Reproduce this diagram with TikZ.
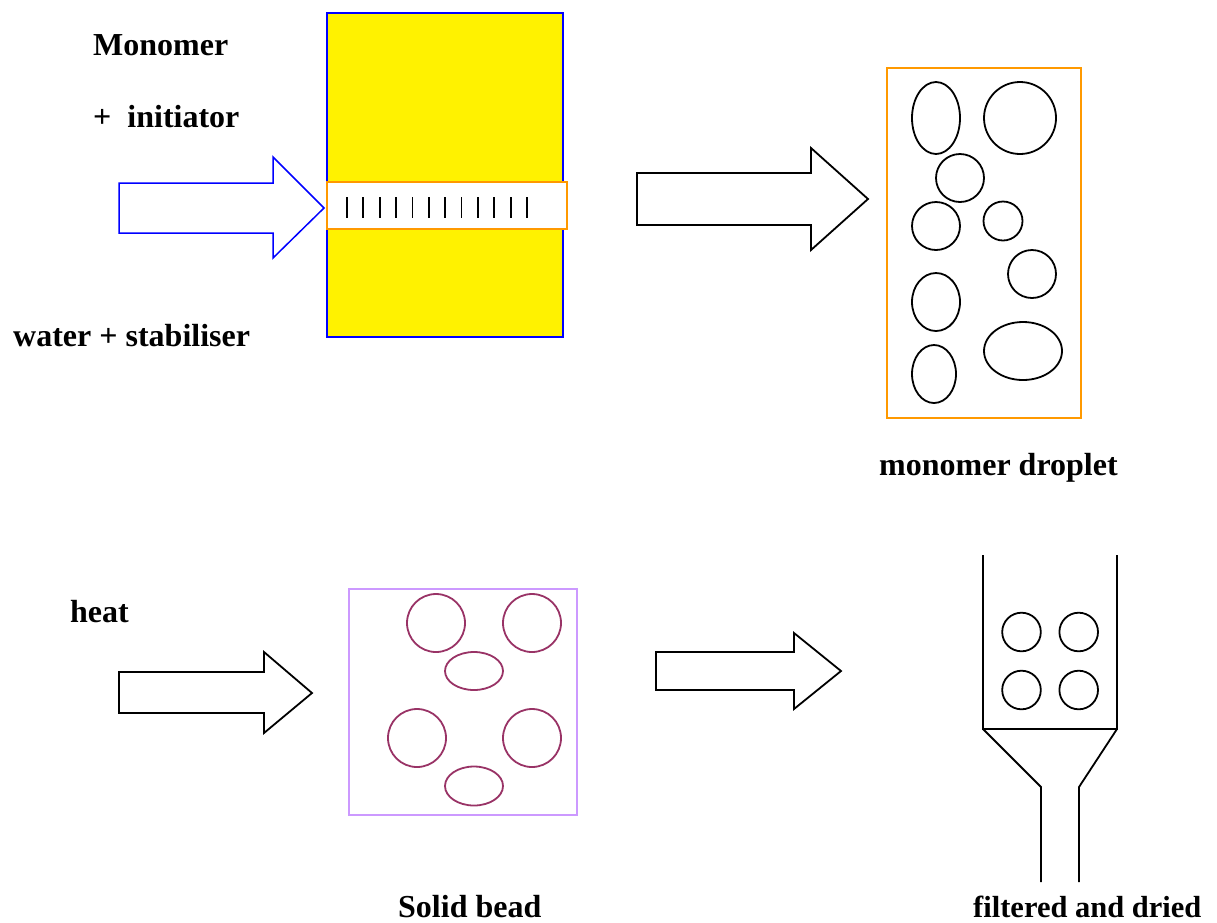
\documentclass[tikz,border=0pt]{standalone}
\usepackage{fontspec}
\setmainfont{Liberation Serif}
\begin{document}
\begin{tikzpicture}[x=1pt,y=-1pt,
  label/.style={font=\fontsize{32}{36}\selectfont\bfseries, anchor=base west, inner sep=0pt},
  blockarrow/.style={draw=black, line width=1.8pt, fill=white, line join=miter},
  drop/.style={draw=black, line width=1.8pt},
  bead/.style={draw=beadred, line width=1.8pt},
  tick/.style={draw=black, line width=1.8pt}]
\definecolor{beadred}{HTML}{993366}
\definecolor{boxlilac}{HTML}{CC99FF}
\definecolor{bandorange}{HTML}{FF9900}
\useasboundingbox (0,0) rectangle (1217,922);
\fill[white] (0,0) rectangle (1217,922);

% --- labels ---
\node[label] (monomer)   at (93,55)   {Monomer};
\node[label] (initiator) at (93,127)  {+\ \ initiator};
\node[label] (water)     at (13,346)  {water + stabiliser};
\node[label] (droplet)   at (879,475) {monomer droplet};
\node[label] (heat)      at (70,622)  {heat};
\node[label] (solid)     at (398,917) {Solid bead};
\node[label, font=\fontsize{30.5}{34}\selectfont\bfseries] (filtered) at (973,917) {filtered and dried};

% --- stirred vessel with the mixing band ---
\draw[fill=yellow, draw=blue, line width=1.5pt] (327,13) rectangle (563,337);
\draw[fill=white, draw=bandorange, line width=1.8pt] (327,182) rectangle (567,229);
\foreach \i in {0,...,11}
  \draw[tick] ({347+\i*16.36},197) -- ({347+\i*16.36},218);

% --- feed arrow into the vessel ---
\draw[draw=blue, line width=1.5pt, fill=white, line join=miter]
  (119,183) -- (273,183) -- (273,157) -- (324,208) -- (273,258) -- (273,233) -- (119,233) -- cycle;

% --- arrow to the droplet suspension ---
\draw[blockarrow]
  (637,173) -- (811,173) -- (811,148) -- (868,199) -- (811,250) -- (811,225) -- (637,225) -- cycle;

% --- monomer droplets ---
\draw[draw=bandorange, line width=1.8pt] (887,68) rectangle (1081,418);
\draw[drop] (936,118) ellipse [x radius=24, y radius=36];
\draw[drop] (1020,118) ellipse [x radius=36, y radius=36];
\draw[drop] (960,178) ellipse [x radius=24, y radius=24];
\draw[drop] (936,226) ellipse [x radius=24, y radius=24];
\draw[drop] (1003,221) ellipse [x radius=19.5, y radius=19.5];
\draw[drop] (1032,274) ellipse [x radius=24, y radius=24];
\draw[drop] (936,302) ellipse [x radius=24, y radius=29];
\draw[drop] (1023,351) ellipse [x radius=39, y radius=29];
\draw[drop] (934,374) ellipse [x radius=22, y radius=29];

% --- heating arrow ---
\draw[blockarrow]
  (119,672) -- (264,672) -- (264,652) -- (312,693) -- (264,733) -- (264,713) -- (119,713) -- cycle;

% --- solid beads ---
\draw[draw=boxlilac, line width=1.8pt] (349,589) rectangle (577,815);
\draw[bead] (436,623) circle [radius=29];
\draw[bead] (532,623) circle [radius=29];
\draw[bead] (474,671) ellipse [x radius=29, y radius=19];
\draw[bead] (417,738) circle [radius=29];
\draw[bead] (532,738) circle [radius=29];
\draw[bead] (474,786) ellipse [x radius=29, y radius=19.5];

% --- arrow to the filter ---
\draw[blockarrow]
  (656,652) -- (794,652) -- (794,633) -- (841,671) -- (794,709) -- (794,690) -- (656,690) -- cycle;

% --- filter funnel with collected beads ---
\coordinate (fl) at (983,555);
\coordinate (fr) at (1117,555);
\coordinate (bl) at (983,729);
\coordinate (br) at (1117,729);
\coordinate (nl) at (1041,787);
\coordinate (nr) at (1079,787);
\coordinate (sl) at (1041,882);
\coordinate (sr) at (1079,882);
\draw[line width=1.8pt, line join=miter] (fl) -- (bl) -- (br) -- (fr);
\draw[line width=1.8pt, line join=miter] (bl) -- (nl) -- (sl);
\draw[line width=1.8pt, line join=miter] (br) -- (nr) -- (sr);
\draw[drop] (1021.5,632) circle [radius=19.3];
\draw[drop] (1078.7,632) circle [radius=19.3];
\draw[drop] (1021.5,690) circle [radius=19.3];
\draw[drop] (1078.7,690) circle [radius=19.3];
\end{tikzpicture}
\end{document}
